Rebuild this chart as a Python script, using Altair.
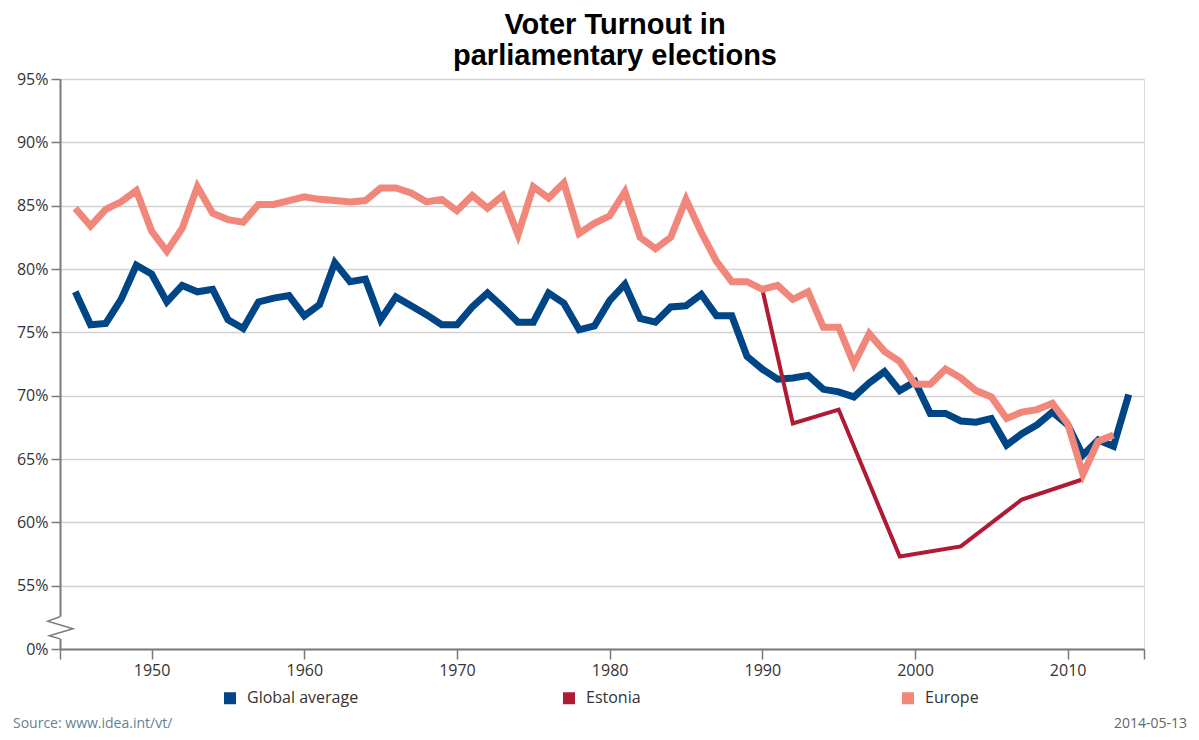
import altair as alt
import pandas as pd

# ---------------- data ----------------
global_years = list(range(1945, 2015))
global_values = [
    78.2, 75.6, 75.7, 77.6, 80.3, 79.6, 77.4, 78.7, 78.2, 78.4,
    76.0, 75.3, 77.4, 77.7, 77.9, 76.3, 77.2, 80.5, 79.0, 79.2,
    76.0, 77.8, 77.1, 76.4, 75.6, 75.6, 77.0, 78.1, 77.0, 75.8,
    75.8, 78.1, 77.3, 75.2, 75.5, 77.5, 78.8, 76.1, 75.8, 77.0,
    77.1, 78.0, 76.3, 76.3, 73.1, 72.1, 71.3, 71.4, 71.6, 70.5,
    70.3, 69.9, 71.0, 71.9, 70.4, 71.1, 68.6, 68.6, 68.0, 67.9,
    68.2, 66.1, 67.0, 67.7, 68.7, 67.7, 65.3, 66.5, 66.0, 70.1,
]

europe_years = list(range(1945, 2014))
europe_values = [
    84.8, 83.4, 84.7, 85.3, 86.2, 83.0, 81.4, 83.2, 86.5, 84.4,
    83.9, 83.7, 85.1, 85.1, 85.4, 85.7, 85.5, 85.4, 85.3, 85.4,
    86.4, 86.4, 86.0, 85.3, 85.5, 84.6, 85.8, 84.8, 85.8, 82.7,
    86.5, 85.6, 86.8, 82.8, 83.6, 84.2, 86.1, 82.5, 81.6, 82.5,
    85.5, 82.9, 80.6, 79.0, 79.0, 78.4, 78.7, 77.6, 78.2, 75.4,
    75.4, 72.5, 74.9, 73.5, 72.7, 70.9, 70.9, 72.1, 71.4, 70.4,
    69.9, 68.2, 68.7, 68.9, 69.4, 67.8, 63.8, 66.4, 66.9,
]

estonia_years = [1990, 1992, 1995, 1999, 2003, 2007, 2011]
estonia_values = [78.4, 67.8, 68.9, 57.3, 58.1, 61.8, 63.4]

series_names = ["Global average", "Estonia", "Europe"]
series_colors = ["#004586", "#b01a34", "#f0877a"]

y_ticks = [50, 55, 60, 65, 70, 75, 80, 85, 90, 95]
x_ticks = [1944, 1950, 1960, 1970, 1980, 1990, 2000, 2010, 2015]

title_lines = ["Voter Turnout in", "parliamentary elections"]
source_text = "Source: www.idea.int/vt/"
date_text = "2014-05-13"

# axis-break glyph (decoration on the y axis)
break_x = [1944.0, 1943.2, 1944.85, 1943.3, 1944.0]
break_y = [52.55, 52.2, 51.6, 51.05, 50.8]

# ---------------- frames ----------------
df = pd.concat([
    pd.DataFrame({"series": "Global average", "year": global_years, "value": global_values}),
    pd.DataFrame({"series": "Estonia", "year": estonia_years, "value": estonia_values}),
    pd.DataFrame({"series": "Europe", "year": europe_years, "value": europe_values}),
], ignore_index=True)

FONT = "Open Sans"

x_scale = alt.Scale(domain=[1944, 2015], nice=False, zero=False)
y_scale = alt.Scale(domain=[50, 95], nice=False, zero=False)
color_scale = alt.Scale(domain=series_names, range=series_colors)

x_axis = alt.Axis(
    values=x_ticks,
    labelExpr="datum.value % 10 == 0 ? '' + datum.value : ''",
    title=None, grid=False, domainColor="#7a7a7a", domainWidth=2,
    tickColor="#7a7a7a", tickWidth=1.5, tickSize=10,
    labelFont=FONT, labelFontSize=16, labelColor="#333333", labelPadding=3,
)
y_axis = alt.Axis(
    values=y_ticks,
    labelExpr="datum.value == 50 ? '0%' : datum.value + '%'",
    title=None, grid=True, gridColor="#d2d2d2", gridWidth=1.5,
    domainColor="#7a7a7a", domainWidth=2,
    tickColor="#7a7a7a", tickWidth=1.5, tickSize=9,
    labelFont=FONT, labelFontSize=16, labelColor="#333333", labelPadding=3,
)

legend = alt.Legend(
    title=None, orient="none", legendX=162, legendY=611,
    direction="horizontal", columns=3, gridAlign="all", columnPadding=193,
    symbolType="square", symbolSize=25, symbolStrokeWidth=7,
    labelFont=FONT, labelFontSize=16, labelColor="#333333", labelOffset=9,
)

base = alt.Chart(df)

def line(name, width):
    return base.transform_filter(alt.datum.series == name).mark_line(
        strokeWidth=width, strokeJoin="miter"
    ).encode(
        x=alt.X("year:Q", scale=x_scale, axis=x_axis),
        y=alt.Y("value:Q", scale=y_scale, axis=y_axis),
        color=alt.Color("series:N", scale=color_scale, legend=legend,
                        sort=series_names),
    )

l_global = line("Global average", 7)
l_est = line("Estonia", 4)
l_eur = line("Europe", 7)

# axis break decoration
brk_df = pd.DataFrame({"bx": break_x, "by": break_y, "i": list(range(len(break_x)))})
brk_white = alt.Chart(
    pd.DataFrame({"bx": [break_x[0]], "y1": [break_y[0]], "y2": [break_y[-1]]})
).mark_rule(color="white", strokeWidth=5).encode(
    x=alt.X("bx:Q", scale=x_scale), y=alt.Y("y1:Q", scale=y_scale), y2="y2:Q"
)
brk_line = alt.Chart(brk_df).mark_line(color="#7a7a7a", strokeWidth=1.5, clip=False).encode(
    x=alt.X("bx:Q", scale=x_scale), y=alt.Y("by:Q", scale=y_scale), order="i:Q"
)

ann = pd.DataFrame({"k": [0]})
title_mark = alt.Chart(ann).mark_text(
    font="Liberation Sans", fontWeight="bold", fontSize=29, color="#000000",
    align="center", baseline="alphabetic", lineHeight=31,
).encode(x=alt.value(555), y=alt.value(-45), text=alt.value(title_lines))

source_mark = alt.Chart(ann).mark_text(
    font=FONT, fontSize=14, color="#5f8396", align="left", baseline="alphabetic",
).encode(x=alt.value(-47), y=alt.value(649), text=alt.value(source_text))

date_mark = alt.Chart(ann).mark_text(
    font=FONT, fontSize=14, color="#666666", align="right", baseline="alphabetic",
).encode(x=alt.value(1127), y=alt.value(649), text=alt.value(date_text))

chart = alt.layer(
    l_global, l_est, l_eur, brk_white, brk_line, title_mark, source_mark, date_mark
).properties(
    width=1084, height=570,
    padding={"left": 52, "top": 71, "right": 47, "bottom": 83},
    autosize=alt.AutoSizeParams(type="none"),
).configure_view(stroke=None).configure(background="white")

chart.save("out.html", embed_options={"renderer": "svg", "actions": False})
